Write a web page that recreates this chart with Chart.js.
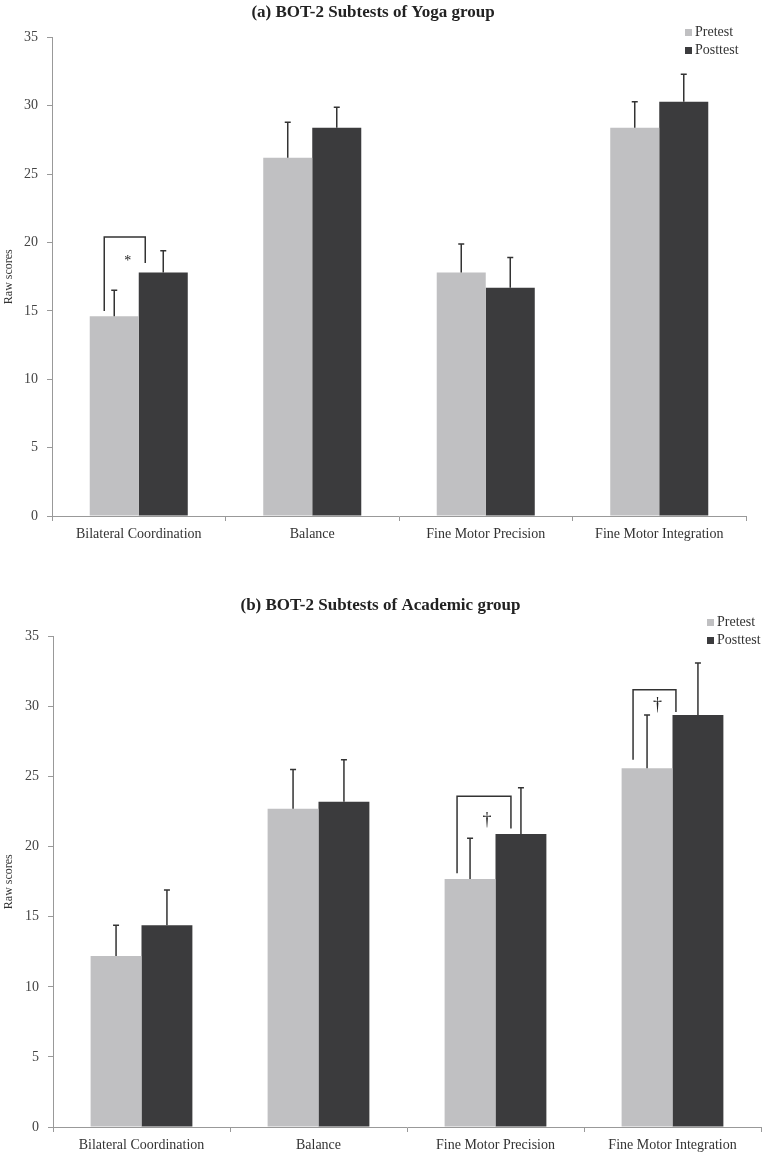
<!DOCTYPE html>
<html>
<head>
<meta charset="utf-8">
<script src="https://cdn.jsdelivr.net/npm/chart.js@4.4.0/dist/chart.umd.min.js"></script>
<style>
  body { margin: 0; background: #fff; }
  .box { position: relative; width: 769px; }
</style>
</head>
<body>
<div class="box"><canvas id="chartYoga" width="769" height="580"></canvas></div>
<div class="box"><canvas id="chartAcad" width="769" height="572"></canvas></div>
<script>
// data
var categories = ['Bilateral Coordination', 'Balance', 'Fine Motor Precision', 'Fine Motor Integration'];
var seriesNames = ['Pretest', 'Posttest'];
var yTicks = [0, 5, 10, 15, 20, 25, 30, 35];

var yogaPre = [14.6, 26.2, 17.8, 28.4];
var yogaPreSd = [1.9, 2.6, 2.1, 1.9];
var yogaPost = [17.8, 28.4, 16.7, 30.3];
var yogaPostSd = [1.6, 1.5, 2.2, 2.0];

var acadPre = [12.2, 22.7, 17.7, 25.6];
var acadPreSd = [2.2, 2.8, 2.9, 3.8];
var acadPost = [14.4, 23.2, 20.9, 29.4];
var acadPostSd = [2.5, 3.0, 3.3, 3.7];

// significance brackets: category, left leg end, right leg end, top, symbol, symbol height
var yogaBrackets = [[0, 15.0, 18.5, 20.4, '*', 18.6]];
var acadBrackets = [[2, 18.1, 21.3, 23.6, '\u2020', 21.9], [3, 26.2, 29.6, 31.2, '\u2020', 30.1]];

var PRE_COLOR = '#c0c0c2';
var POST_COLOR = '#3b3b3d';
var SERIF = "'Liberation Serif', 'DejaVu Serif', serif";

var errorBars = {
  id: 'errorBars',
  afterDatasetsDraw: function (chart) {
    var ctx = chart.ctx, y = chart.scales.y;
    ctx.save();
    ctx.strokeStyle = '#333';
    ctx.lineWidth = 1.5;
    chart.data.datasets.forEach(function (ds, i) {
      var meta = chart.getDatasetMeta(i);
      meta.data.forEach(function (bar, j) {
        var top = y.getPixelForValue(ds.data[j] + ds.sd[j]);
        ctx.beginPath();
        ctx.moveTo(bar.x, bar.y);
        ctx.lineTo(bar.x, top);
        ctx.moveTo(bar.x - 3, top);
        ctx.lineTo(bar.x + 3, top);
        ctx.stroke();
      });
    });
    ctx.restore();
  }
};

var brackets = {
  id: 'brackets',
  afterDatasetsDraw: function (chart, args, opts) {
    var ctx = chart.ctx, y = chart.scales.y;
    var m0 = chart.getDatasetMeta(0), m1 = chart.getDatasetMeta(1);
    ctx.save();
    ctx.strokeStyle = '#333';
    ctx.fillStyle = '#222';
    ctx.lineWidth = 1.5;
    opts.items.forEach(function (b, k) {
      var off = opts.offsets[k];
      var xl = m0.data[b[0]].x + off[0];
      var xr = m1.data[b[0]].x + off[1];
      var yt = y.getPixelForValue(b[3]);
      ctx.beginPath();
      ctx.moveTo(xl, y.getPixelForValue(b[1]));
      ctx.lineTo(xl, yt);
      ctx.lineTo(xr, yt);
      ctx.lineTo(xr, y.getPixelForValue(b[2]));
      ctx.stroke();
      ctx.font = opts.markSize + 'px ' + SERIF;
      ctx.textAlign = 'center';
      ctx.textBaseline = 'middle';
      ctx.fillText(b[4], (xl + xr) / 2 + 3, y.getPixelForValue(b[5]));
    });
    ctx.restore();
  }
};

var cornerLegend = {
  id: 'cornerLegend',
  afterDraw: function (chart, args, opts) {
    var ctx = chart.ctx;
    ctx.save();
    ctx.font = '14px ' + SERIF;
    ctx.textBaseline = 'middle';
    ctx.textAlign = 'left';
    chart.data.datasets.forEach(function (ds, i) {
      var yy = opts.y + i * opts.gap;
      ctx.fillStyle = ds.backgroundColor;
      ctx.fillRect(opts.x, yy - 3, 7, 7);
      ctx.fillStyle = '#333';
      ctx.fillText(ds.label, opts.x + 10, yy);
    });
    ctx.restore();
  }
};

function makeChart(id, title, pre, preSd, post, postSd, br, lay) {
  return new Chart(document.getElementById(id).getContext('2d'), {
    type: 'bar',
    data: {
      labels: categories,
      datasets: [
        { label: seriesNames[0], data: pre, sd: preSd, backgroundColor: PRE_COLOR,
          categoryPercentage: lay.cat, barPercentage: 1 },
        { label: seriesNames[1], data: post, sd: postSd, backgroundColor: POST_COLOR,
          categoryPercentage: lay.cat, barPercentage: 1 }
      ]
    },
    options: {
      responsive: false,
      animation: false,
      layout: { padding: { left: 0, right: lay.right, top: 0, bottom: 0 } },
      plugins: {
        legend: { display: false },
        tooltip: { enabled: false },
        title: {
          display: true, text: title, color: '#222',
          font: { family: SERIF, size: 17, weight: 'bold' },
          padding: { top: lay.tTop, bottom: lay.tBottom }
        },
        brackets: { items: br, offsets: lay.offsets, markSize: lay.markSize },
        cornerLegend: { x: lay.legX, y: lay.legY, gap: 18 }
      },
      scales: {
        x: {
          grid: { display: true, drawOnChartArea: false, drawTicks: true, tickLength: 5, color: '#999', offset: true },
          border: { color: '#999' },
          ticks: { color: '#333', padding: 5, font: { family: SERIF, size: 14 } },
          afterFit: function (s) { s.height = lay.xh; }
        },
        y: {
          min: 0, max: 35,
          afterBuildTicks: function (s) { s.ticks = yTicks.map(function (v) { return { value: v }; }); },
          grid: { display: true, drawOnChartArea: false, drawTicks: true, tickLength: 5, color: '#999' },
          border: { color: '#999' },
          ticks: { color: '#444', padding: 9, font: { family: SERIF, size: 14 } },
          title: { display: true, text: 'Raw scores', color: '#333', padding: 2, font: { family: SERIF, size: 12 } },
          afterFit: function (s) { s.width = lay.yw; }
        }
      }
    },
    plugins: [errorBars, brackets, cornerLegend]
  });
}

makeChart('chartYoga', '(a) BOT-2 Subtests of Yoga group', yogaPre, yogaPreSd, yogaPost, yogaPostSd, yogaBrackets,
  { cat: 0.565, right: 23, tTop: 2, tBottom: 15, xh: 64, yw: 52, offsets: [[-10, -18]], markSize: 14, legX: 685, legY: 32 });
makeChart('chartAcad', '(b) BOT-2 Subtests of Academic group', acadPre, acadPreSd, acadPost, acadPostSd, acadBrackets,
  { cat: 0.575, right: 8, tTop: 15, tBottom: 21, xh: 25, yw: 53, offsets: [[-13, -10], [-14, -22]], markSize: 18, legX: 707, legY: 42 });
</script>
</body>
</html>
